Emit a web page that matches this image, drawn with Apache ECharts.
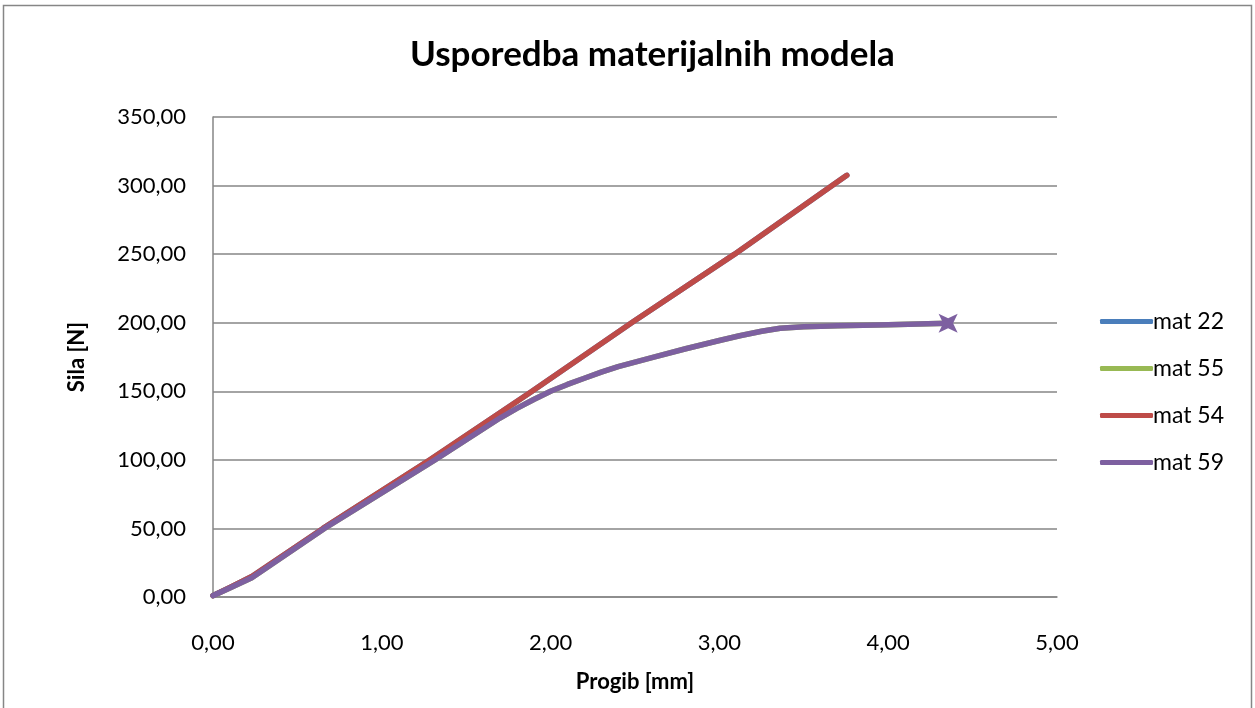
<!DOCTYPE html>
<html>
<head>
<meta charset="utf-8">
<script src="https://cdn.jsdelivr.net/npm/echarts@6/dist/echarts.min.js"></script>
<style>
  html, body { margin: 0; padding: 0; background: #fff; }
  #chart { width: 1255px; height: 708px; }
</style>
</head>
<body>
<div id="chart"></div>
<script>
// Deflection [mm] vs. force [N] for four material models
const seriesNames = ['mat 22', 'mat 55', 'mat 54', 'mat 59'];

// Linear models (mat 22 and mat 54 coincide)
const linearX = [0, 0.1, 0.23, 0.652, 1.285, 1.89, 2.48, 3.09, 3.668, 3.755];
const linearY = [1, 7, 15, 50, 100, 150, 200, 250, 300, 307.5];

// Softening models (mat 55 and mat 59 coincide)
const softX = [0, 0.1, 0.23, 0.66, 1.315, 1.7, 1.8, 1.9, 2.0, 2.1, 2.2, 2.3, 2.4, 2.6, 2.8, 3.0, 3.12, 3.25, 3.36, 3.5, 3.7, 4.0, 4.355];
const softY = [1, 6.5, 14, 50, 100, 130.5, 137.5, 144, 150, 155, 159.5, 164, 168, 174.5, 181, 187, 190.5, 193.8, 196, 197.1, 197.8, 198.6, 199.6];

const seriesX = [linearX, softX, linearX, softX];
const seriesY = [linearY, softY, linearY, softY];
const seriesColors = ['#4A7EBB', '#98B954', '#BE4B48', '#7D60A0'];

const xTicks = { min: 0, max: 5, interval: 1 };
const yTicks = { min: 0, max: 350, interval: 50 };

const fmt = v => v.toFixed(2).replace('.', ',');
const FONT = 'Lato, "Open Sans", sans-serif';
const STAR = 'path://M0,-10 L2.6,-2.6 L10,0 L2.6,2.6 L0,10 L-2.6,2.6 L-10,0 L-2.6,-2.6 Z';

const pairs = (xs, ys) => xs.map((x, i) => [x, ys[i]]);

const series = seriesNames.map((name, k) => {
  const s = {
    name: name,
    type: 'line',
    data: pairs(seriesX[k], seriesY[k]),
    symbol: 'none',
    smooth: false,
    lineStyle: { color: seriesColors[k], width: 5.5, cap: 'round', join: 'round' },
    itemStyle: { color: seriesColors[k] },
    z: 2 + k
  };
  if (k === 3) {
    const last = s.data[s.data.length - 1];
    s.markPoint = {
      symbol: STAR,
      symbolSize: 27,
      symbolRotate: 45,
      silent: true,
      label: { show: false },
      itemStyle: { color: seriesColors[k] },
      data: [{ coord: last }]
    };
  }
  return s;
});

const chart = echarts.init(document.getElementById('chart'), null, { renderer: 'canvas' });
chart.setOption({
  backgroundColor: '#ffffff',
  animation: false,
  title: {
    text: 'Usporedba materijalnih modela',
    left: 405,
    top: 32,
    textStyle: { fontFamily: FONT, fontWeight: 'bold', fontSize: 35, color: '#000' }
  },
  graphic: [{
    type: 'rect',
    shape: { x: 3.5, y: 5.5, width: 1248, height: 720 },
    style: { fill: 'none', stroke: '#868686', lineWidth: 1.5 },
    silent: true,
    z: -10
  }],
  grid: { left: 213, right: 198, top: 117, bottom: 111, containLabel: false },
  legend: {
    orient: 'vertical',
    left: 1095,
    top: 305,
    itemWidth: 53,
    itemHeight: 5,
    itemGap: 24,
    icon: 'roundRect',
    data: seriesNames,
    textStyle: { fontFamily: FONT, fontSize: 23, color: '#000', padding: [0, 0, 0, -5] }
  },
  xAxis: {
    type: 'value',
    min: xTicks.min, max: xTicks.max, interval: xTicks.interval,
    name: 'Progib [mm]',
    nameLocation: 'middle',
    nameGap: 74,
    nameTextStyle: { fontFamily: FONT, fontWeight: 'bold', fontSize: 22, color: '#000' },
    axisLine: { show: true, lineStyle: { color: '#868686', width: 1.5 } },
    axisTick: { show: false },
    splitLine: { show: false },
    axisLabel: { formatter: fmt, margin: 35, fontFamily: FONT, fontSize: 22, color: '#000' }
  },
  yAxis: {
    type: 'value',
    min: yTicks.min, max: yTicks.max, interval: yTicks.interval,
    name: 'Sila [N]',
    nameLocation: 'middle',
    nameGap: 125,
    nameRotate: 90,
    nameTextStyle: { fontFamily: FONT, fontWeight: 'bold', fontSize: 22, color: '#000' },
    axisLine: { show: true, lineStyle: { color: '#868686', width: 1.5 } },
    axisTick: { show: false },
    splitLine: { show: true, lineStyle: { color: '#868686', width: 1.5 } },
    axisLabel: { formatter: fmt, margin: 27, fontFamily: FONT, fontSize: 22, color: '#000' }
  },
  series: series
});
</script>
</body>
</html>
